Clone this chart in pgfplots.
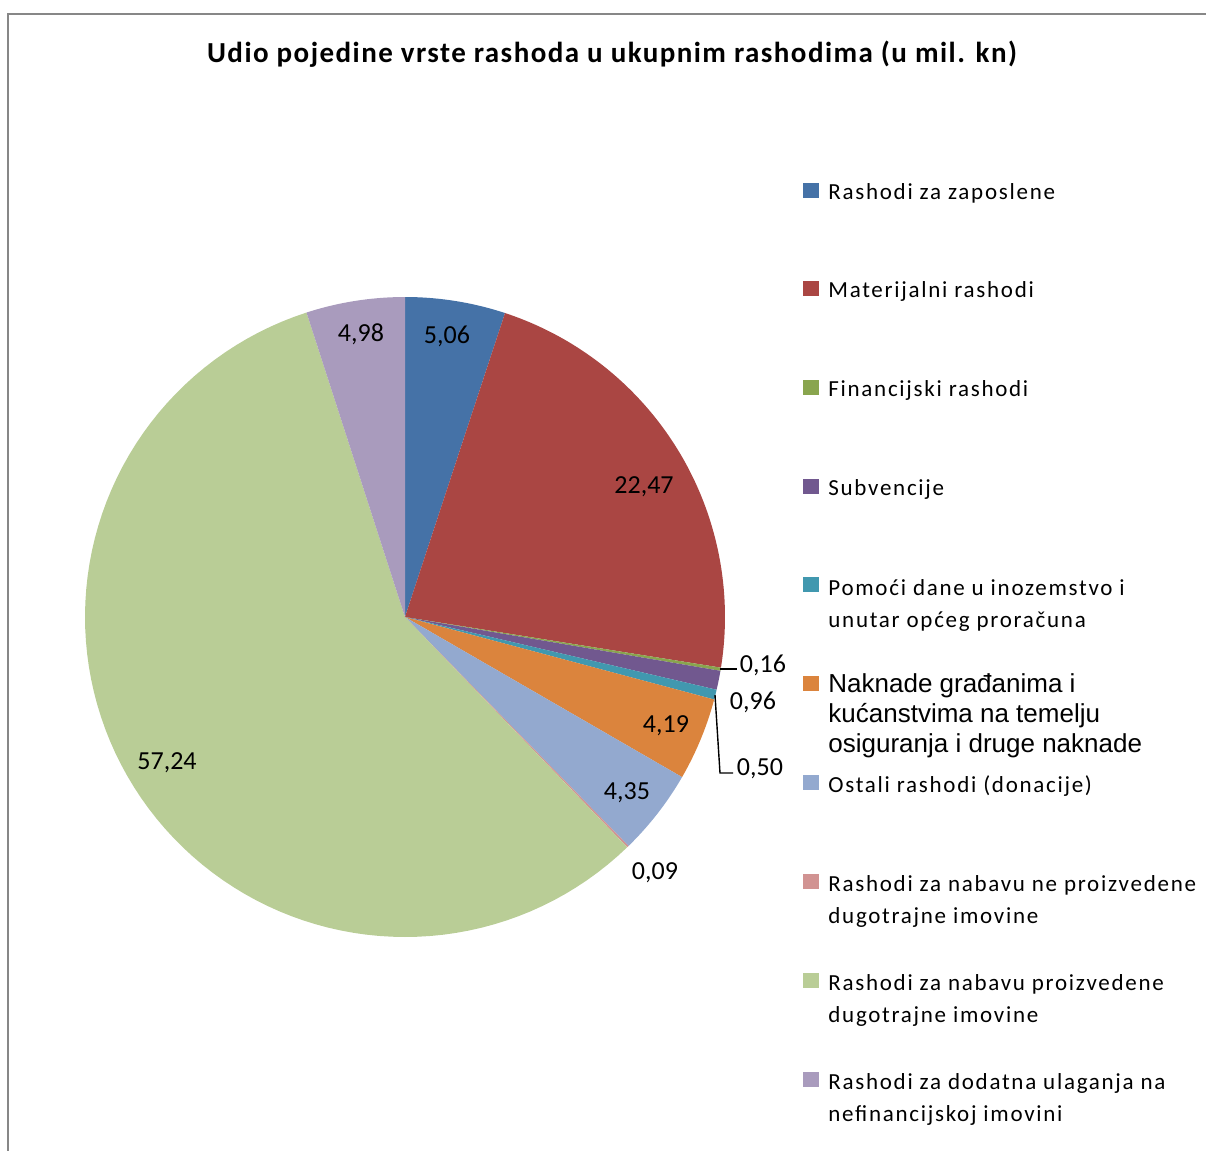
\documentclass[border=0pt]{standalone}
\usepackage{pgfplots}
\pgfplotsset{compat=1.18}
\usepackage{fontspec}
\setmainfont{Carlito}
\newfontfamily\legfont[LetterSpace=7.5]{Carlito}
\newfontfamily\titfont[LetterSpace=5]{Carlito}
\newfontfamily\arialf{Liberation Sans}
\definecolor{c1}{HTML}{4572A7}
\definecolor{c2}{HTML}{AA4643}
\definecolor{c3}{HTML}{89A54E}
\definecolor{c4}{HTML}{71588F}
\definecolor{c5}{HTML}{4198AF}
\definecolor{c6}{HTML}{DB843D}
\definecolor{c7}{HTML}{93A9CF}
\definecolor{c8}{HTML}{D19392}
\definecolor{c9}{HTML}{B9CD96}
\definecolor{c10}{HTML}{A99BBD}
\definecolor{bordergray}{HTML}{878787}

\newcommand\piecum{0}
\newcommand\pieslice[2]{%
  \pgfmathsetmacro\pieA{90-3.6*\piecum}%
  \pgfmathsetmacro\pieNew{\piecum+#2}%
  \pgfmathsetmacro\pieB{90-3.6*\pieNew}%
  \edef\pietmp{\noexpand\addplot[fill=#1,draw=none,domain=\pieB:\pieA,samples=90]
    ({405+320*cos(x)},{617-320*sin(x)}) -- (axis cs:405,617) -- cycle;}%
  \pietmp
  \global\let\piecum\pieNew}

\newcommand\legline[2]{\node[anchor=base west,inner sep=0pt] at (axis cs:828,#1) {\legfont\fontsize{11.5}{14}\selectfont #2};}
\newcommand\legbox[3]{\fill[#1] (axis cs:803,#2) rectangle (axis cs:819,#3);}

\begin{document}
\begin{tikzpicture}
\begin{axis}[
  scale only axis, width=603pt, height=575.5pt,
  xmin=0, xmax=1206, ymin=0, ymax=1151, y dir=reverse,
  hide axis, clip=false]
% values (percent) of the ten expense types
\pieslice{c1}{5.06}
\pieslice{c2}{22.47}
\pieslice{c3}{0.16}
\pieslice{c4}{0.96}
\pieslice{c5}{0.50}
\pieslice{c6}{4.19}
\pieslice{c7}{4.35}
\pieslice{c8}{0.09}
\pieslice{c9}{57.24}
\pieslice{c10}{4.98}

% chart area border
\draw[bordergray, line width=1pt] (axis cs:7.5,1151) -- (axis cs:7.5,13.5) -- (axis cs:1206,13.5);

% title
\node[anchor=base, inner sep=0pt] at (axis cs:612,62) {\titfont\bfseries\fontsize{14.5}{17}\selectfont Udio pojedine vrste rashoda u ukupnim rashodima (u mil. kn)};

% data labels
\begin{scope}[every node/.style={font=\fontsize{13}{15}\selectfont, inner sep=0pt}]
\node at (axis cs:447,336) {5,06};
\node at (axis cs:361,334) {4,98};
\node at (axis cs:644,487) {22,47};
\node at (axis cs:763,665) {0,16};
\node at (axis cs:753,702) {0,96};
\node at (axis cs:666,726) {4,19};
\node at (axis cs:760,769) {0,50};
\node at (axis cs:627,793) {4,35};
\node at (axis cs:655,873) {0,09};
\node at (axis cs:167,763) {57,24};
\end{scope}
\draw[black, line width=0.7pt] (axis cs:720,669) -- (axis cs:737,669);
\draw[black, line width=0.7pt] (axis cs:715,695) -- (axis cs:720,773) -- (axis cs:733,773);

% legend
\legbox{c1}{183}{198}\legline{199}{Rashodi za zaposlene}
\legbox{c2}{281}{296}\legline{297}{Materijalni rashodi}
\legbox{c3}{380}{395}\legline{396}{Financijski rashodi}
\legbox{c4}{479}{494}\legline{495}{Subvencije}
\legbox{c5}{577}{592}\legline{595}{Pomoći dane u inozemstvo i}\legline{627}{unutar općeg proračuna}
\legbox{c6}{676}{691}
\node[anchor=base west,inner sep=0pt] at (axis cs:828,692) {\arialf\fontsize{13}{15}\selectfont Naknade građanima i};
\node[anchor=base west,inner sep=0pt] at (axis cs:828,722) {\arialf\fontsize{13}{15}\selectfont kućanstvima na temelju};
\node[anchor=base west,inner sep=0pt] at (axis cs:828,752) {\arialf\fontsize{13}{15}\selectfont osiguranja i druge naknade};
\legbox{c7}{775}{790}\legline{792}{Ostali rashodi (donacije)}
\legbox{c8}{874}{889}\legline{891}{Rashodi za nabavu ne proizvedene}\legline{923}{dugotrajne imovine}
\legbox{c9}{973}{988}\legline{990}{Rashodi za nabavu proizvedene}\legline{1022}{dugotrajne imovine}
\legbox{c10}{1072}{1087}\legline{1089}{Rashodi za dodatna ulaganja na}\legline{1121}{nefinancijskoj imovini}
\end{axis}
\pgfresetboundingbox
\path (current axis.south west) rectangle (current axis.north east);
\end{tikzpicture}
\end{document}
